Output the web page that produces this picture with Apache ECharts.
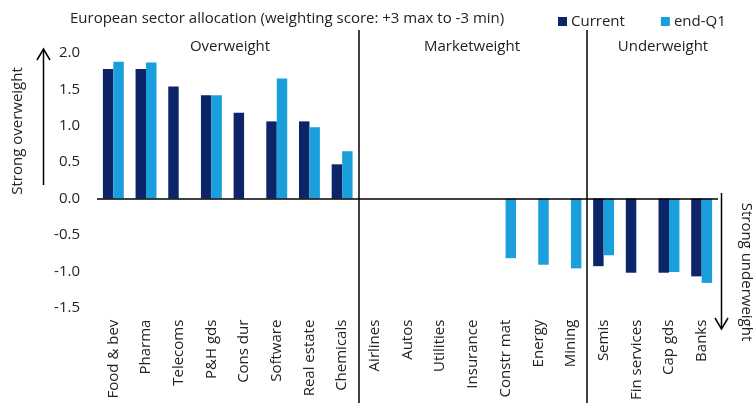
<!DOCTYPE html>
<html><head><meta charset="utf-8">
<script src="https://cdn.jsdelivr.net/npm/echarts@6/dist/echarts.min.js"></script>
<style>html,body{margin:0;padding:0;background:#fff}#c{width:755px;height:403px}</style>
</head><body><div id="c"></div>
<script>
const categories = ["Food & bev","Pharma","Telecoms","P&H gds","Cons dur","Software","Real estate","Chemicals","Airlines","Autos","Utilities","Insurance","Constr mat","Energy","Mining","Semis","Fin services","Cap gds","Banks"];
const current = [1.78,1.78,1.54,1.42,1.18,1.06,1.06,0.47,0,0,0,0,0,0,0,-0.93,-1.02,-1.02,-1.07];
const endQ1 = [1.88,1.87,0,1.42,0,1.65,0.98,0.65,0,0,0,0,-0.82,-0.91,-0.96,-0.78,0,-1.01,-1.16];
const sections = ["Overweight","Marketweight","Underweight"];
const yTicks = {min:-1.5, max:2.0, interval:0.5};
const titleText = "European sector allocation (weighting score: +3 max to -3 min)";

const FONT = "Open Sans";
const FS = 15;
const TXT = "#222";
const chart = echarts.init(document.getElementById('c'), null, {renderer:'canvas'});
const lineStyle = {stroke:'#000', lineWidth:1.5};
chart.setOption({
  animation:false,
  textStyle:{fontFamily:FONT},
  title:{text:titleText,left:65,top:6,textStyle:{fontFamily:FONT,fontSize:FS,fontWeight:'normal',color:TXT}},
  legend:{left:553,top:9,itemWidth:9,itemHeight:9,itemGap:36,icon:'rect',
    textStyle:{fontFamily:FONT,fontSize:FS,color:TXT,padding:[0,0,0,-1]},
    data:['Current','end-Q1']},
  grid:{left:97,right:37,top:53,bottom:88.5,containLabel:false},
  xAxis:{type:'category',data:categories,
    axisLine:{show:false,onZero:false},axisTick:{show:false},
    axisLabel:{rotate:90,interval:0,margin:12,fontSize:FS,color:TXT,fontFamily:FONT}},
  yAxis:{type:'value',min:yTicks.min,max:yTicks.max,interval:yTicks.interval,
    splitLine:{show:false},axisLine:{show:false},axisTick:{show:false},
    axisLabel:{margin:17,fontSize:FS,color:TXT,fontFamily:FONT,formatter:v=>v.toFixed(1)}},
  series:[
    {name:'Current',type:'bar',data:current,barGap:'0%',barCategoryGap:'36%',itemStyle:{color:'#0c2468'},
      markLine:{silent:true,symbol:['none','none'],label:{show:false},
        lineStyle:{color:'#000',type:'solid',width:1.5},data:[{yAxis:0}]}},
    {name:'end-Q1',type:'bar',data:endQ1,itemStyle:{color:'#1a9fdc'}}
  ],
  graphic:[
    {type:'line',shape:{x1:359,y1:30,x2:359,y2:403},style:lineStyle,z:10},
    {type:'line',shape:{x1:587,y1:30,x2:587,y2:403},style:lineStyle,z:10},
    {type:'text',x:230,y:47,style:{text:sections[0],fontFamily:FONT,fontSize:FS,fill:TXT,align:'center',verticalAlign:'middle'}},
    {type:'text',x:472,y:47,style:{text:sections[1],fontFamily:FONT,fontSize:FS,fill:TXT,align:'center',verticalAlign:'middle'}},
    {type:'text',x:663,y:47,style:{text:sections[2],fontFamily:FONT,fontSize:FS,fill:TXT,align:'center',verticalAlign:'middle'}},
    {type:'line',shape:{x1:43.5,y1:49,x2:43.5,y2:185},style:lineStyle},
    {type:'polyline',shape:{points:[[37,60],[43.5,49],[50,60]]},style:{stroke:'#000',lineWidth:1.5,fill:null}},
    {type:'text',x:18,y:131,rotation:Math.PI/2,style:{text:'Strong overweight',fontFamily:FONT,fontSize:FS,fill:TXT,align:'center',verticalAlign:'middle'}},
    {type:'line',shape:{x1:721.5,y1:193,x2:721.5,y2:329},style:lineStyle},
    {type:'polyline',shape:{points:[[715,318],[721.5,329],[728,318]]},style:{stroke:'#000',lineWidth:1.5,fill:null}},
    {type:'text',x:746,y:272,rotation:-Math.PI/2,style:{text:'Strong underweight',fontFamily:FONT,fontSize:FS,fill:TXT,align:'center',verticalAlign:'middle'}}
  ]
});
</script></body></html>
